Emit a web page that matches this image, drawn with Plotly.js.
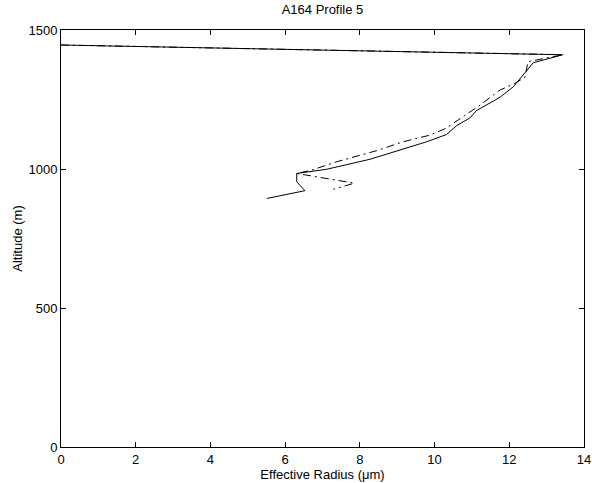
<!DOCTYPE html>
<html>
<head>
<meta charset="utf-8">
<script src="https://cdn.plot.ly/plotly-3.0.1.min.js"></script>
<style>html,body{margin:0;padding:0;background:#fff;}#chart{width:592px;height:483px;}</style>
</head>
<body>
<div id="chart"></div>
<script>
// Solid profile
var solidRadius   = [0, 13.43, 12.64, 12.37, 12.11, 11.75, 11.39, 11.12, 10.95, 10.59, 10.32, 9.79, 8.27, 7.11, 6.31, 6.31, 6.53, 5.51];
var solidAltitude = [1446, 1411, 1382, 1338, 1296, 1258, 1232, 1210, 1184, 1156, 1124, 1098, 1035, 999, 984, 954, 922, 894];
// Dash-dot profile
var dashRadius   = [0, 13.43, 12.5, 12.42, 12.15, 11.75, 11.22, 10.95, 10.55, 10.3, 9.88, 9.16, 8.45, 7.65, 7.38, 6.71, 6.31, 7.85, 7.29];
var dashAltitude = [1446, 1411, 1386, 1330, 1308, 1284, 1230, 1206, 1170, 1146, 1122, 1098, 1066, 1038, 1026, 996, 984, 949, 927];

var xTicks = [0, 2, 4, 6, 8, 10, 12, 14];
var yTicks = [0, 500, 1000, 1500];

var traces = [
  {x: solidRadius, y: solidAltitude, mode: 'lines', type: 'scatter',
   line: {color: '#000', width: 1, dash: 'solid'}, hoverinfo: 'none'},
  {x: dashRadius, y: dashAltitude, mode: 'lines', type: 'scatter',
   line: {color: '#000', width: 1, dash: '8px,4px,2px,4px'}, hoverinfo: 'none'}
];

var fontFam = 'Liberation Sans, Arial, Helvetica, sans-serif';
var layout = {
  width: 592, height: 483,
  margin: {l: 61, r: 8, t: 30, b: 36, pad: 0},
  paper_bgcolor: '#fff', plot_bgcolor: '#fff',
  showlegend: false,
  font: {family: fontFam, size: 13, color: '#000'},
  title: {text: 'A164 Profile 5', font: {family: fontFam, size: 13, color: '#000'},
          x: 0.5, xref: 'paper', y: 1, yref: 'container', yanchor: 'top', pad: {t: 5}},
  xaxis: {
    range: [0, 14], tickvals: xTicks, ticktext: xTicks.map(String),
    ticks: 'inside', ticklen: 5, tickcolor: '#000', tickwidth: 1,
    showline: true, linecolor: '#000', linewidth: 1, mirror: 'ticks',
    showgrid: false, zeroline: false, automargin: false,
    tickfont: {family: fontFam, size: 13, color: '#000'},
    title: {text: 'Effective Radius (μm)', font: {family: fontFam, size: 13, color: '#000'}, standoff: 0}
  },
  yaxis: {
    range: [0, 1500], tickvals: yTicks, ticktext: yTicks.map(String),
    ticks: 'inside', ticklen: 5, tickcolor: '#000', tickwidth: 1,
    showline: true, linecolor: '#000', linewidth: 1, mirror: 'ticks',
    showgrid: false, zeroline: false, automargin: false,
    tickfont: {family: fontFam, size: 13, color: '#000'},
    title: {text: 'Altitude (m)', font: {family: fontFam, size: 13, color: '#000'}, standoff: 2}
  }
};

Plotly.newPlot('chart', traces, layout, {staticPlot: true, displayModeBar: false});
</script>
</body>
</html>
